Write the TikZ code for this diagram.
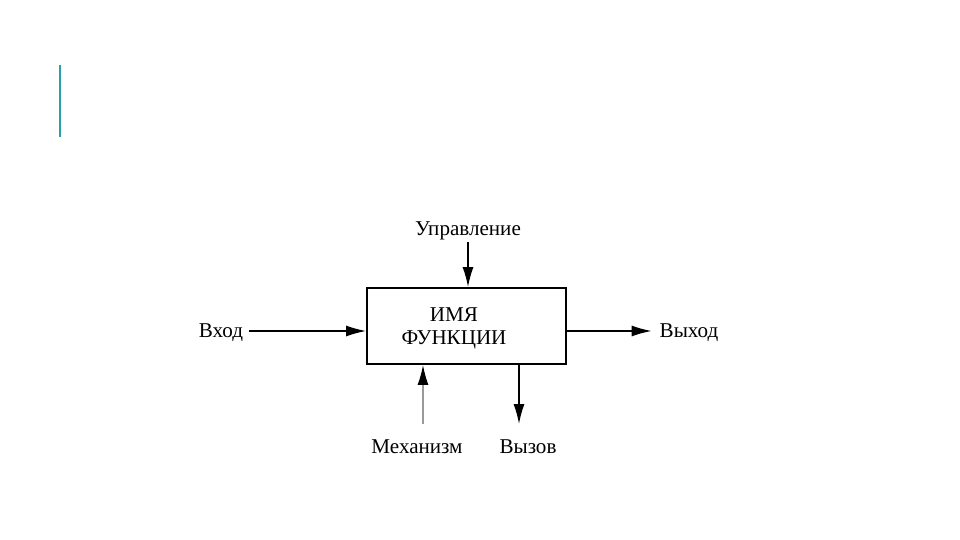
\documentclass[tikz,border=0pt]{standalone}
\usepackage{fontspec}
\setmainfont{Liberation Serif}
\usepackage{xcolor}
\usetikzlibrary{arrows.meta,calc}
\definecolor{accent}{RGB}{38,160,170}
\tikzstyle{fnbox}=[draw, line width=1.1pt, minimum width=3.98cm, minimum height=1.52cm]
\tikzstyle{lbl}=[inner sep=1pt, font=\fontsize{12}{13}\selectfont]
\tikzstyle{flow}=[line width=0.8pt, -{Latex[length=0.4cm,width=0.22cm]}]

\begin{document}
\begin{tikzpicture}[x=0.02cm, y=-0.02cm]
 \useasboundingbox (0,0) rectangle (960,540);
 \draw[accent, line width=1.1pt] (60,65) -- (60,137);
%
 \node[fnbox] (fn) at (466.5,326) {};
 \node[lbl, align=center] (name) at (454,328) {ИМЯ\\ФУНКЦИИ};
%
 \node[lbl] (ctrl) at (468,231) {Управление};
 \node[lbl] (inp) at (221,333) {Вход};
 \node[lbl] (outp) at (689,333) {Выход};
 \node[lbl] (mech) at (417,447) {Механизм};
 \node[lbl] (call) at (528,447) {Вызов};
 \coordinate (mechend) at (423,424);
 \coordinate (callend) at (519,424);
%
 \draw[flow] (ctrl.south) -- (ctrl.south |- fn.north);
 \draw[flow] ($(inp.east)+(4,-2)$) -- (fn.west |- 0,331);
 \draw[flow] (fn.east |- 0,331) -- ($(outp.west)+(-6,-2)$);
 \draw[flow, draw=gray!80, -{Latex[length=0.4cm,width=0.22cm,black]}] (mechend) -- (mechend |- fn.south);
 \draw[flow] (callend |- fn.south) -- (callend);
\end{tikzpicture}
\end{document}
